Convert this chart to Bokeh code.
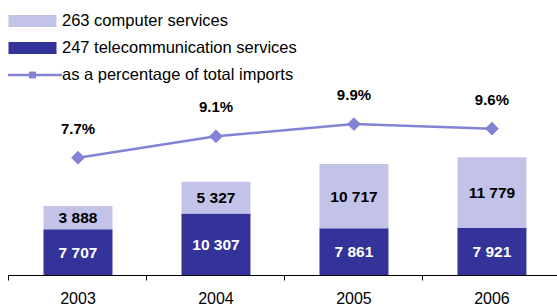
import math
from bokeh.plotting import figure
from bokeh.models import Range1d, FixedTicker, ColumnDataSource, Legend, LegendItem
from bokeh.core.properties import value
from bokeh.embed import file_html
from bokeh.resources import INLINE

years = ["2003", "2004", "2005", "2006"]
telecom = [7707, 10307, 7861, 7921]
computer = [3888, 5327, 10717, 11779]
pct = [7.7, 9.1, 9.9, 9.6]
series_names = ["263 computer services",
                "247 telecommunication services",
                "as a percentage of total imports"]

FONT = "Liberation Sans"
DARK = "#333399"
LIGHT = "#C3C3EA"
LINE = "#8383D6"


def fmt(v):
    return f"{v:,}".replace(",", " ")


xs = list(range(len(years)))
src = ColumnDataSource(dict(
    x=xs,
    telecom=telecom,
    computer=computer,
    top=[t + c for t, c in zip(telecom, computer)],
    tel_mid=[t / 2 for t in telecom],
    comp_mid=[t + c / 2 for t, c in zip(telecom, computer)],
    tel_lab=[fmt(v) for v in telecom],
    comp_lab=[fmt(v) for v in computer],
    pct=pct,
    pct_lab=[f"{v:.1f}%" for v in pct],
))

p = figure(width=557, height=306, output_backend="svg", toolbar_location=None,
           x_range=Range1d(-0.5036, 3.475), y_range=Range1d(0, 45800),
           y_axis_location=None,
           min_border_left=8, min_border_right=0, min_border_top=0, min_border_bottom=0)
p.outline_line_color = None
p.grid.visible = False
p.background_fill_color = "white"
p.border_fill_color = "white"
p.extra_y_ranges = {"pct": Range1d(0, 17.98)}

r_tel = p.vbar(x="x", bottom=0, top="telecom", width=0.5, source=src,
               fill_color=DARK, line_color=None)
r_comp = p.vbar(x="x", bottom="telecom", top="top", width=0.5, source=src,
                fill_color=LIGHT, line_color=None)
r_line = p.line(x="x", y="pct", y_range_name="pct", source=src,
                line_color=LINE, line_width=2.5)
r_pts = p.scatter(x="x", y="pct", y_range_name="pct", source=src,
                  marker="square", angle=math.pi / 4, size=9,
                  fill_color=LINE, line_color=LINE)

p.text(x="x", y="tel_mid", text="tel_lab", source=src, text_color="white",
       text_font=value(FONT), text_font_style="bold", text_font_size="15.5px",
       text_align="center", text_baseline="middle")
p.text(x="x", y="comp_mid", text="comp_lab", source=src, text_color="black",
       text_font=value(FONT), text_font_style="bold", text_font_size="15.5px",
       text_align="center", text_baseline="middle")
p.text(x="x", y="pct", y_range_name="pct", text="pct_lab", source=src,
       text_color="black", y_offset=-29.5,
       text_font=value(FONT), text_font_style="bold", text_font_size="15px",
       text_align="center", text_baseline="middle")

ax = p.xaxis[0]
ax.ticker = FixedTicker(ticks=xs, minor_ticks=[i - 0.5 for i in xs])
ax.major_label_overrides = {i: y for i, y in zip(xs, years)}
ax.major_tick_out = 0
ax.major_tick_in = 0
ax.minor_tick_out = 5
ax.minor_tick_in = 0
ax.minor_tick_line_color = "black"
ax.axis_line_color = "black"
ax.axis_line_width = 1.2
ax.major_label_standoff = 11
ax.major_label_text_font = FONT
ax.major_label_text_font_size = "16px"
ax.major_label_text_color = "black"

legend = Legend(items=[
    LegendItem(label=series_names[0], renderers=[r_comp]),
    LegendItem(label=series_names[1], renderers=[r_tel]),
    LegendItem(label=series_names[2], renderers=[r_line, r_pts]),
], location=(-6, 191), orientation="vertical",
    glyph_width=60, glyph_height=15, label_height=15, label_standoff=0,
    spacing=8, padding=0, margin=0, border_line_color=None,
    background_fill_alpha=0, label_text_font=FONT,
    label_text_font_size="16.5px", label_text_color="black")
p.add_layout(legend)

open("out.html", "w").write(file_html(p, INLINE))
